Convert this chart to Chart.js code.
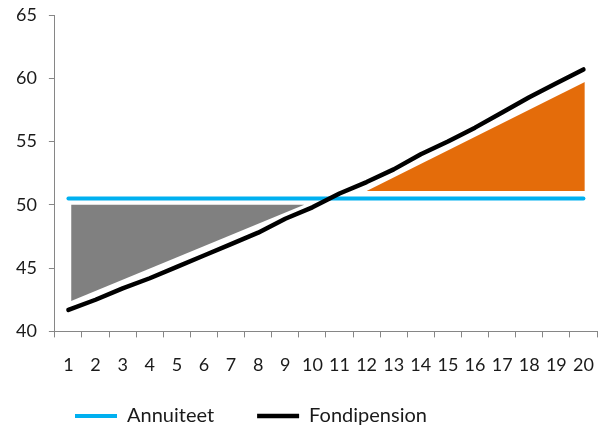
<!DOCTYPE html>
<html>
<head>
<meta charset="utf-8">
<script src="https://cdn.jsdelivr.net/npm/chart.js@4"></script>
<style>
    body { margin: 0; background: #fff; }
    #wrap { width: 598px; height: 427px; }
</style>
</head>
<body>
<div id="wrap"><canvas id="pensionChart"></canvas></div>
<script>
// Years on the x axis
const years = ['1', '2', '3', '4', '5', '6', '7', '8', '9', '10',
    '11', '12', '13', '14', '15', '16', '17', '18', '19', '20'];

// Series values
const annuiteet = [50.5, 50.5, 50.5, 50.5, 50.5, 50.5, 50.5, 50.5, 50.5, 50.5,
    50.5, 50.5, 50.5, 50.5, 50.5, 50.5, 50.5, 50.5, 50.5, 50.5];
const fondipension = [41.7, 42.5, 43.4, 44.2, 45.1, 46.0, 46.9, 47.8, 48.9, 49.8,
    50.9, 51.8, 52.8, 54.0, 55.0, 56.1, 57.3, 58.5, 59.6, 60.7];

// Shaded triangles (x in year units, y in axis units)
const lossX = [1.1, 9.7];
const lossY = [42.4, 50.0];
const lossBase = 50.0;
const gainX = [12.0, 20.05];
const gainY = [51.1, 59.7];
const gainBase = 51.1;

const yTicks = [40, 45, 50, 55, 60, 65];

const fontFamily = 'Lato, "Open Sans", sans-serif';
const axisGray = '#868686';

// Legend sits left of centre in the original
const legendLeft = 75;
const legendRowMid = 416;

const legendShift = {
    id: 'legendShift',
    afterLayout(chart) {
        const lg = chart.legend;
        if (!lg || !lg.lineWidths) return;
        const labels = lg.options.labels;
        const pad = labels.padding;
        const start = (lg.left + pad + lg.right - lg.lineWidths[0]) / 2;
        const dx = legendLeft - start;
        const dy = legendRowMid - (lg.top + pad + labels.font.size / 2);
        lg.left += dx;
        lg.right += dx;
        lg.top += dy;
        lg.bottom += dy;
    }
};

function toPoints(xs, ys) {
    return xs.map((x, i) => ({ x: x, y: ys[i] }));
}

window.addEventListener('load', () => {
    const ctx = document.getElementById('pensionChart').getContext('2d');
    new Chart(ctx, {
        type: 'line',
        data: {
            labels: years,
            datasets: [{
                label: 'Annuiteet',
                data: annuiteet,
                borderColor: '#00B0F0',
                backgroundColor: '#00B0F0',
                borderWidth: 4,
                borderCapStyle: 'round',
                pointRadius: 0,
                fill: false,
                order: 1
            }, {
                label: 'Fondipension',
                data: fondipension,
                borderColor: '#000000',
                backgroundColor: '#000000',
                borderWidth: 4.5,
                borderCapStyle: 'round',
                borderJoinStyle: 'round',
                pointRadius: 0,
                fill: false,
                order: 0
            }, {
                label: 'loss',
                data: toPoints(lossX, lossY),
                xAxisID: 'xs',
                borderWidth: 0,
                borderColor: 'rgba(0,0,0,0)',
                backgroundColor: '#808080',
                pointRadius: 0,
                fill: { value: lossBase },
                order: 2
            }, {
                label: 'gain',
                data: toPoints(gainX, gainY),
                xAxisID: 'xs',
                borderWidth: 0,
                borderColor: 'rgba(0,0,0,0)',
                backgroundColor: '#E46C0A',
                pointRadius: 0,
                fill: { value: gainBase },
                order: 2
            }]
        },
        options: {
            responsive: true,
            maintainAspectRatio: false,
            animation: false,
            layout: {
                padding: { left: 4, right: 1, top: 15, bottom: -39 }
            },
            scales: {
                x: {
                    type: 'category',
                    offset: true,
                    // let the axis run to the right edge like the original
                    afterFit: scale => {
                        scale.paddingRight = 0;
                        scale.paddingLeft = 0;
                    },
                    border: { color: axisGray, width: 1 },
                    grid: {
                        offset: true,
                        drawOnChartArea: false,
                        tickLength: 6,
                        color: axisGray
                    },
                    ticks: {
                        color: '#1a1a1a',
                        padding: 17,
                        maxRotation: 0,
                        autoSkip: false,
                        font: { family: fontFamily, size: 18 }
                    }
                },
                xs: {
                    type: 'linear',
                    display: false,
                    min: 0.5,
                    max: 20.5
                },
                y: {
                    min: yTicks[0],
                    max: yTicks[yTicks.length - 1],
                    afterFit: scale => {
                        scale.paddingTop = 0;
                        scale.paddingBottom = 0;
                    },
                    border: { color: axisGray, width: 1 },
                    grid: {
                        drawOnChartArea: false,
                        tickLength: 6,
                        color: axisGray
                    },
                    ticks: {
                        stepSize: 5,
                        color: '#1a1a1a',
                        padding: 12,
                        font: { family: fontFamily, size: 18 }
                    }
                }
            },
            plugins: {
                legend: {
                    position: 'bottom',
                    labels: {
                        filter: item => item.datasetIndex < 2,
                        sort: (a, b) => a.datasetIndex - b.datasetIndex,
                        usePointStyle: true,
                        pointStyle: 'line',
                        pointStyleWidth: 42,
                        boxHeight: 4,
                        padding: 43,
                        color: '#1a1a1a',
                        font: { family: fontFamily, size: 20 }
                    }
                },
                tooltip: { enabled: false }
            }
        },
        plugins: [legendShift]
    });
});
</script>
</body>
</html>
